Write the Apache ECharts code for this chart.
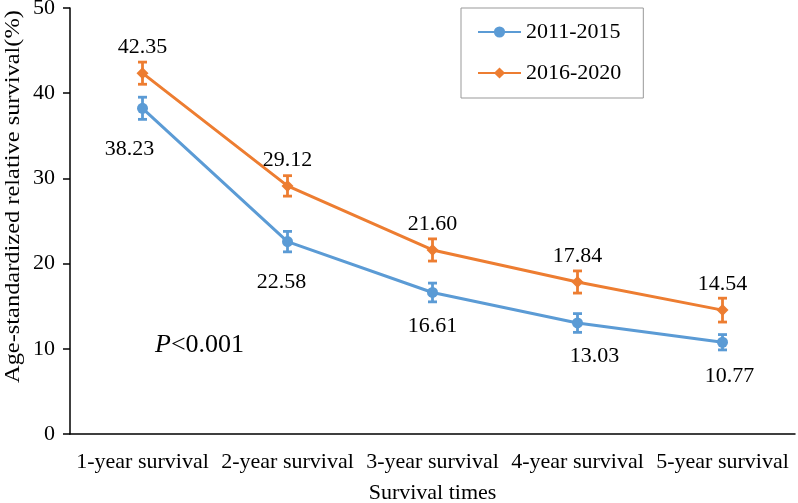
<!DOCTYPE html>
<html>
<head>
<meta charset="utf-8">
<script src="https://cdn.jsdelivr.net/npm/echarts@6/dist/echarts.min.js"></script>
<style>
  html, body { margin: 0; padding: 0; background: #fff; }
  #chart { width: 798px; height: 503px; }
</style>
</head>
<body>
<div id="chart"></div>
<script>
// survival by period
var categories = ['1-year survival', '2-year survival', '3-year survival', '4-year survival', '5-year survival'];
var yTicks = [0, 10, 20, 30, 40, 50];
var series2011 = [38.23, 22.58, 16.61, 13.03, 10.77];
var series2016 = [42.35, 29.12, 21.60, 17.84, 14.54];
// half-width of error bars (estimated)
var err2011 = [1.3, 1.2, 1.1, 1.1, 0.9];
var err2016 = [1.3, 1.2, 1.3, 1.3, 1.4];

var BLUE = '#5B9BD5';
var ORANGE = '#ED7D31';
var FONT = '"Liberation Serif", "Times New Roman", serif';

// nudges for the lower labels so they sit like the original
var blueShift = [[-13, 7], [-6, 7], [0, 0], [17, 0], [7, 0]];

function errData(vals, errs) {
    return vals.map(function (v, i) { return [i, v - errs[i], v + errs[i]]; });
}

function errorBar(color) {
    return function (params, api) {
        var i = api.value(0);
        var lo = api.coord([i, api.value(1)]);
        var hi = api.coord([i, api.value(2)]);
        var w = 4.5;
        var st = { stroke: color, lineWidth: 2.8 };
        return {
            type: 'group',
            children: [
                { type: 'line', shape: { x1: lo[0], y1: lo[1], x2: hi[0], y2: hi[1] }, style: st },
                { type: 'line', shape: { x1: lo[0] - w, y1: lo[1], x2: lo[0] + w, y2: lo[1] }, style: st },
                { type: 'line', shape: { x1: hi[0] - w, y1: hi[1], x2: hi[0] + w, y2: hi[1] }, style: st }
            ]
        };
    };
}

var chart = echarts.init(document.getElementById('chart'));
var option = {
    animation: false,
    textStyle: { fontFamily: FONT, color: '#000' },
    grid: { left: 70, right: 3, top: 8, bottom: 69, outerBoundsMode: 'none' },
    legend: {
        orient: 'vertical',
        left: 461,
        top: 8,
        padding: [13, 22, 14, 16],
        itemWidth: 43,
        itemHeight: 14,
        itemGap: 19,
        borderColor: '#999',
        borderWidth: 1,
        selectedMode: false,
        textStyle: { fontFamily: FONT, fontSize: 22, lineHeight: 22, color: '#000' },
        data: ['2011-2015', '2016-2020']
    },
    xAxis: {
        type: 'category',
        data: categories,
        boundaryGap: true,
        name: 'Survival times',
        nameLocation: 'middle',
        nameGap: 48,
        nameTextStyle: { fontFamily: FONT, fontSize: 22, color: '#000' },
        axisLine: { lineStyle: { color: '#000', width: 1.5 } },
        axisTick: { alignWithLabel: true, length: 5, lineStyle: { color: '#000', width: 1.5 } },
        axisLabel: { interval: 0, fontFamily: FONT, fontSize: 22, color: '#000', margin: 17 }
    },
    yAxis: {
        type: 'value',
        min: yTicks[0],
        max: yTicks[yTicks.length - 1],
        interval: 10,
        axisLine: { show: true, lineStyle: { color: '#000', width: 1.5 } },
        axisTick: { show: true, length: 7, lineStyle: { color: '#000', width: 1.5 } },
        axisLabel: { fontFamily: FONT, fontSize: 22, color: '#000', margin: 15 },
        splitLine: { show: false }
    },
    graphic: [
        {
            // y axis title, reads bottom to top
            type: 'text',
            x: 2,
            y: 383,
            rotation: Math.PI / 2,
            scaleX: 1.11,
            style: {
                text: 'Age-standardized relative survival(%)',
                font: '22px ' + FONT,
                fill: '#000'
            }
        },
        {
            type: 'text',
            left: 155,
            top: 332,
            style: {
                text: '{i|P}<0.001',
                font: '26px ' + FONT,
                fill: '#000',
                rich: { i: { fontStyle: 'italic', fontSize: 26, fontFamily: FONT } }
            }
        }
    ],
    series: [
        {
            name: '2011-2015',
            type: 'line',
            data: series2011.map(function (v, i) {
                return { value: v, label: { offset: blueShift[i] } };
            }),
            color: BLUE,
            symbol: 'circle',
            symbolSize: 11,
            lineStyle: { width: 3, color: BLUE },
            itemStyle: { color: BLUE },
            label: {
                show: true,
                position: 'bottom',
                distance: 17,
                fontFamily: FONT,
                fontSize: 22,
                color: '#000',
                formatter: function (p) { return p.value.toFixed(2); }
            },
            z: 3
        },
        {
            name: '2016-2020',
            type: 'line',
            data: series2016,
            color: ORANGE,
            symbol: 'diamond',
            symbolSize: 12,
            lineStyle: { width: 3, color: ORANGE },
            itemStyle: { color: ORANGE },
            label: {
                show: true,
                position: 'top',
                distance: 9,
                fontFamily: FONT,
                fontSize: 22,
                color: '#000',
                formatter: function (p) { return p.value.toFixed(2); }
            },
            z: 3
        },
        {
            type: 'custom',
            data: errData(series2011, err2011),
            encode: { x: 0, y: [1, 2] },
            renderItem: errorBar(BLUE),
            silent: true,
            z: 4
        },
        {
            type: 'custom',
            data: errData(series2016, err2016),
            encode: { x: 0, y: [1, 2] },
            renderItem: errorBar(ORANGE),
            silent: true,
            z: 4
        }
    ]
};
chart.setOption(option);
</script>
</body>
</html>
